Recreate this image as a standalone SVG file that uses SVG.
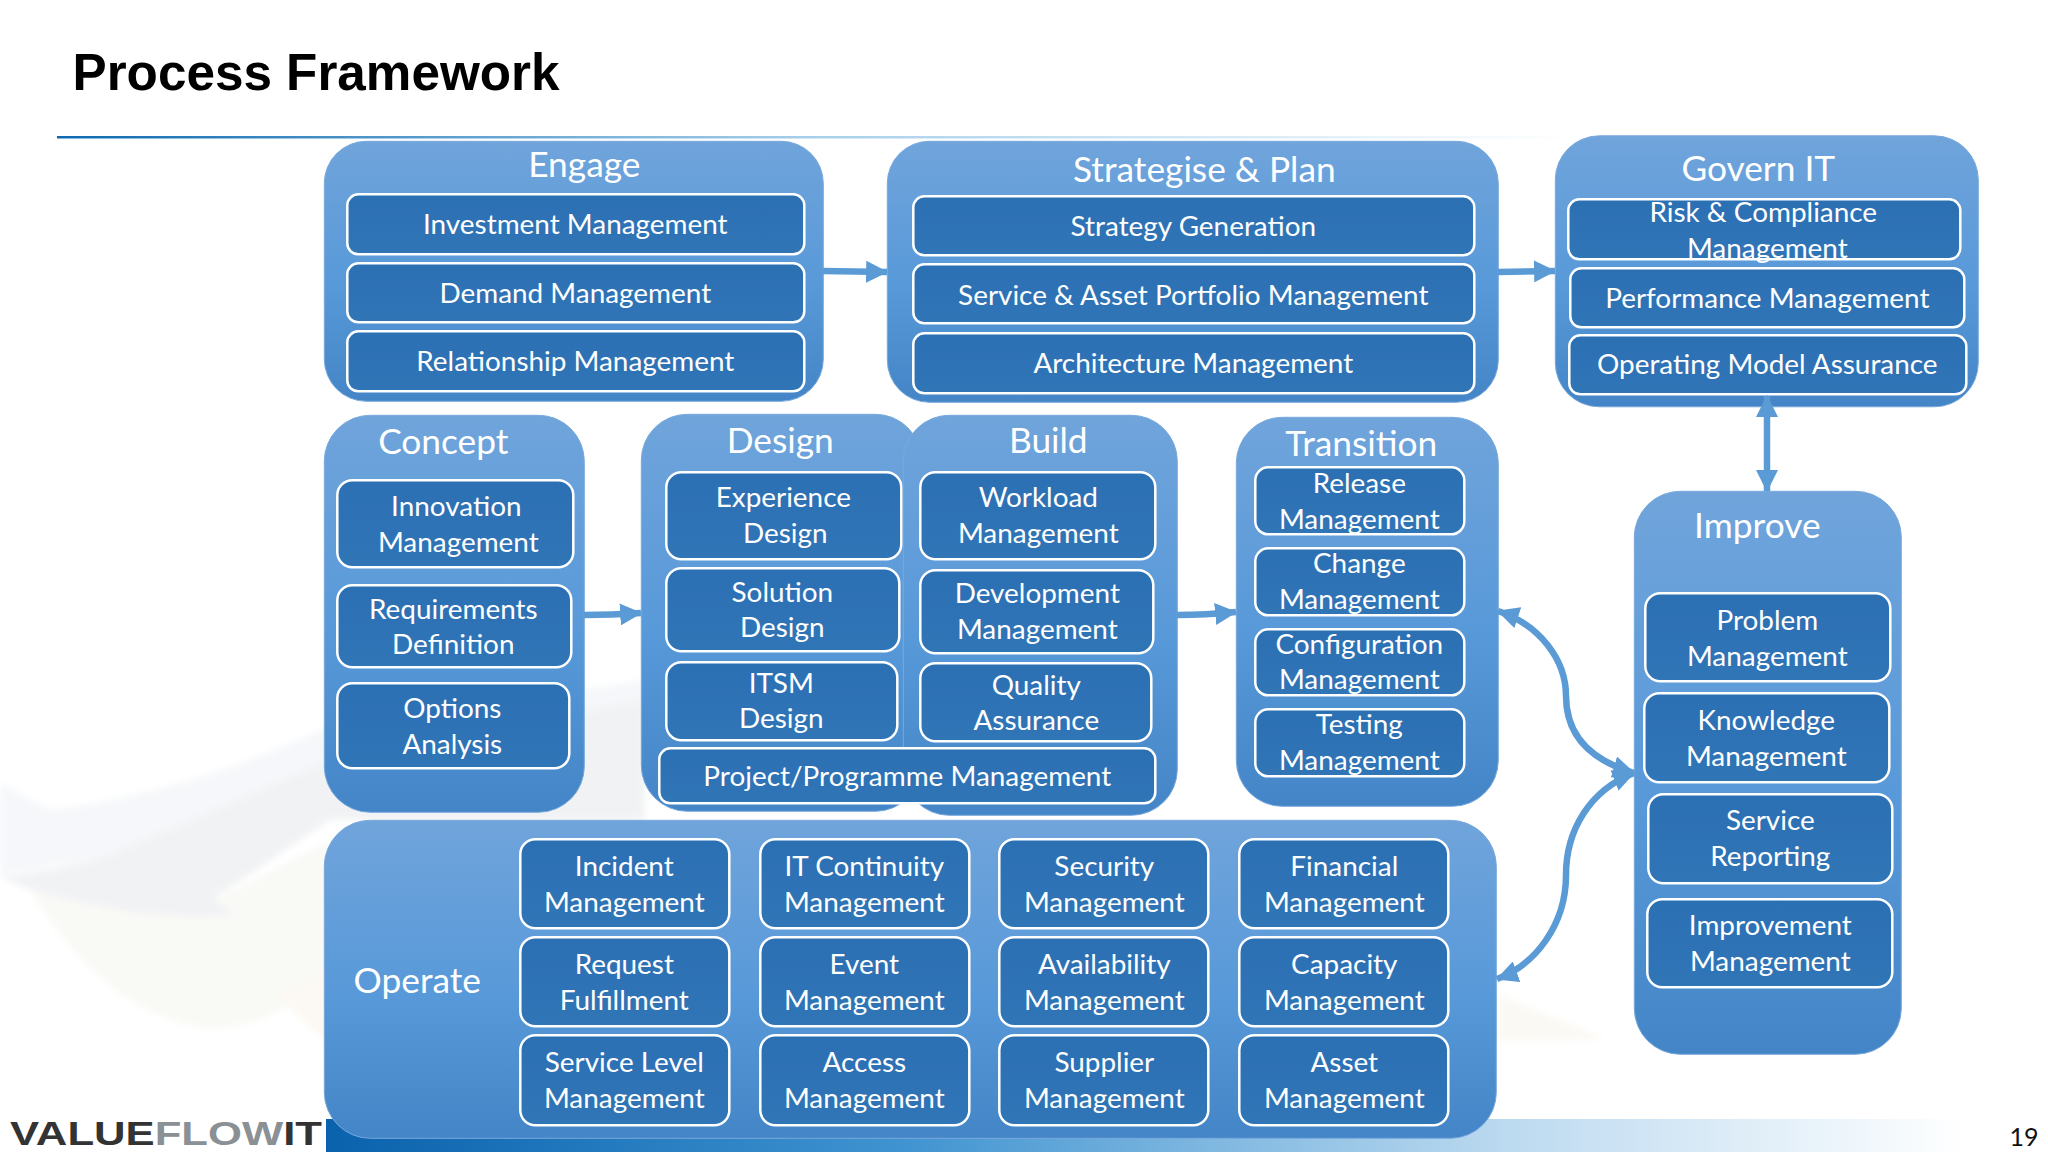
<svg xmlns="http://www.w3.org/2000/svg" width="2048" height="1152" viewBox="0 0 2048 1152">
<defs>
<linearGradient id="panelFill" x1="0" y1="0" x2="0" y2="1"><stop offset="0" stop-color="#70a4db"/><stop offset="0.55" stop-color="#5899d9"/><stop offset="1" stop-color="#4485c7"/></linearGradient>
<linearGradient id="boxFill" x1="0" y1="0" x2="0" y2="1"><stop offset="0" stop-color="#2c70b4"/><stop offset="1" stop-color="#3075b6"/></linearGradient>
<linearGradient id="band" x1="0" y1="0" x2="1" y2="0"><stop offset="0" stop-color="#0a62ad"/><stop offset="0.35" stop-color="#3f93d0"/><stop offset="0.72" stop-color="#bcdaf0"/><stop offset="1" stop-color="#ffffff"/></linearGradient>
<linearGradient id="rule" x1="0" y1="0" x2="1" y2="0"><stop offset="0" stop-color="#0d6ab1"/><stop offset="0.5" stop-color="#a8d0ea"/><stop offset="1" stop-color="#ffffff"/></linearGradient>
<filter id="soft" x="-5%" y="-5%" width="110%" height="110%"><feGaussianBlur stdDeviation="3"/></filter>
<marker id="head" markerUnits="userSpaceOnUse" markerWidth="22" markerHeight="22" refX="19" refY="10" orient="auto-start-reverse" viewBox="0 0 20 20"><path d="M0,0 L20,10 L0,20 Z" fill="#5b9bd5"/></marker>
</defs>
<style>
.panel{fill:url(#panelFill);stroke:#78a9dc;stroke-width:1}
.box{fill:url(#boxFill);stroke:#fff;stroke-width:2.5}
text{font-family:Lato,"Liberation Sans",sans-serif;fill:#fff;text-anchor:middle}
.h{font-size:35.3px;transform:translateY(.6px)}
.t{font-size:27.9px}
.conn{fill:none;stroke:#5b9bd5;stroke-width:6.5;marker-end:url(#head)}
.both{marker-start:url(#head)}
</style>
<rect width="2048" height="1152" fill="#fff"/>
<g id="background" filter="url(#soft)" opacity="0.62">
<path d="M0,783 L49,810 Q200,790 330,725 L645,680 L645,820 L330,820 L0,875 Z" fill="#f0f3f7"/>
<path d="M0,877 Q60,870 110,855 Q240,800 330,760 L645,700 L645,820 L330,820 L215,898 L235,915 Q150,925 30,890 Z" fill="#e9ebed"/>
<path d="M30,890 Q90,990 170,1020 Q250,1050 330,972 L330,840 L215,900 L235,915 Q150,925 30,890 Z" fill="#f6f7f1"/>
<path d="M275,995 L330,970 L330,1045 Z" fill="#fbf5ec"/>
<path d="M1497,994 L1606,1039 L1497,1041 Z" fill="#f8f6ee"/>
</g>
<rect x="326" y="1119" width="1640" height="33" fill="url(#band)"/>
<rect x="57" y="136" width="1520" height="2.5" fill="url(#rule)"/>
<text x="72.5" y="90" textLength="487" lengthAdjust="spacingAndGlyphs" style="font-family:'Liberation Sans',sans-serif;font-weight:700;font-size:52.5px;fill:#000;text-anchor:start">Process Framework</text>
<text id="logo" x="10" y="1145" textLength="312" lengthAdjust="spacingAndGlyphs" style="font-family:'Liberation Sans',sans-serif;font-weight:700;font-size:33.5px;text-anchor:start"><tspan fill="#333">VALUE</tspan><tspan fill="#8b9095">FLOW</tspan><tspan fill="#333">IT</tspan></text>
<text x="2024" y="1146" style="font-size:25px;fill:#111">19</text>
<g id="nodes" transform="translate(0.3,0.3)">
<g id="engage">
<rect class="panel" x="324" y="141" width="499" height="260" rx="42"/>
<text class="h" x="584" y="176">Engage</text>
<g id="investment-management"><rect class="box" x="347" y="194" width="457" height="60" rx="11"/><text class="t" x="575" y="234">Investment Management</text></g>
<g id="demand-management"><rect class="box" x="347" y="263" width="457" height="59" rx="11"/><text class="t" x="575" y="303">Demand Management</text></g>
<g id="relationship-management"><rect class="box" x="347" y="331" width="457" height="60" rx="11"/><text class="t" x="575" y="371">Relationship Management</text></g>
</g>
<g id="strategise-plan">
<rect class="panel" x="887" y="141" width="611" height="261" rx="42"/>
<text class="h" x="1204" y="181">Strategise &amp; Plan</text>
<g id="strategy-generation"><rect class="box" x="913" y="196" width="561" height="59" rx="11"/><text class="t" x="1193" y="236">Strategy Generation</text></g>
<g id="service-asset-portfolio-management"><rect class="box" x="913" y="264" width="561" height="59" rx="11"/><text class="t" x="1193" y="304.5">Service &amp; Asset Portfolio Management</text></g>
<g id="architecture-management"><rect class="box" x="913" y="333" width="561" height="60" rx="11"/><text class="t" x="1193" y="373">Architecture Management</text></g>
</g>
<g id="govern-it">
<rect class="panel" x="1555" y="135.5" width="423" height="271" rx="44"/>
<text class="h" x="1758" y="180">Govern IT</text>
<g id="risk-compliance-management"><rect class="box" x="1568" y="199" width="392" height="60" rx="11"/><text class="t" x="1763" y="222">Risk &amp; Compliance</text><text class="t" x="1767" y="258">Management</text></g>
<g id="performance-management"><rect class="box" x="1570" y="268" width="394" height="59" rx="11"/><text class="t" x="1767" y="308">Performance Management</text></g>
<g id="operating-model-assurance"><rect class="box" x="1569" y="335" width="397" height="59" rx="11"/><text class="t" x="1767" y="374">Operating Model Assurance</text></g>
</g>
<g id="concept">
<rect class="panel" x="324" y="415" width="260" height="397" rx="46"/>
<text class="h" x="443" y="453">Concept</text>
<g id="innovation-management"><rect class="box" x="337" y="480" width="236" height="87" rx="15"/><text class="t" x="456" y="516">Innovation</text><text class="t" x="458" y="552">Management</text></g>
<g id="requirements-definition"><rect class="box" x="337" y="585" width="234" height="82" rx="15"/><text class="t" x="453" y="619">Requirements</text><text class="t" x="453" y="654">Definition</text></g>
<g id="options-analysis"><rect class="box" x="337" y="683" width="232" height="85" rx="15"/><text class="t" x="452" y="718">Options</text><text class="t" x="452" y="754">Analysis</text></g>
</g>
<g id="design">
<rect class="panel" x="641" y="414" width="280" height="397" rx="46"/>
<text class="h" x="780" y="452">Design</text>
<g id="experience-design"><rect class="box" x="666" y="472" width="235" height="87" rx="15"/><text class="t" x="783" y="507">Experience</text><text class="t" x="785" y="543">Design</text></g>
<g id="solution-design"><rect class="box" x="666" y="568" width="233" height="83" rx="15"/><text class="t" x="782" y="602">Solution</text><text class="t" x="782" y="637">Design</text></g>
<g id="itsm-design"><rect class="box" x="666" y="662" width="231" height="78" rx="15"/><text class="t" x="781" y="693">ITSM</text><text class="t" x="781" y="728">Design</text></g>
</g>
<g id="build">
<rect class="panel" x="903" y="415" width="274" height="400" rx="46"/>
<text class="h" x="1048" y="452">Build</text>
<g id="workload-management"><rect class="box" x="920" y="472" width="235" height="87" rx="15"/><text class="t" x="1038" y="507">Workload</text><text class="t" x="1038" y="543">Management</text></g>
<g id="development-management"><rect class="box" x="920" y="570" width="233" height="83" rx="15"/><text class="t" x="1037" y="603">Development</text><text class="t" x="1037" y="639">Management</text></g>
<g id="quality-assurance"><rect class="box" x="920" y="663" width="231" height="78" rx="15"/><text class="t" x="1036" y="695">Quality</text><text class="t" x="1036" y="730">Assurance</text></g>
</g>
<g id="project-programme-management"><rect class="box" x="659" y="748" width="496" height="55" rx="11"/><text class="t" x="907" y="786">Project/Programme Management</text></g>
<g id="transition">
<rect class="panel" x="1236" y="417" width="262" height="389" rx="46"/>
<text class="h" x="1361" y="455">Transition</text>
<g id="release-management"><rect class="box" x="1255" y="467" width="209" height="67" rx="13"/><text class="t" x="1359" y="493">Release</text><text class="t" x="1359" y="529">Management</text></g>
<g id="change-management"><rect class="box" x="1255" y="548" width="209" height="67" rx="13"/><text class="t" x="1359" y="573">Change</text><text class="t" x="1359" y="609">Management</text></g>
<g id="configuration-management"><rect class="box" x="1255" y="629" width="209" height="66" rx="13"/><text class="t" x="1359" y="654">Configuration</text><text class="t" x="1359" y="689">Management</text></g>
<g id="testing-management"><rect class="box" x="1255" y="709" width="209" height="67" rx="13"/><text class="t" x="1359" y="734">Testing</text><text class="t" x="1359" y="770">Management</text></g>
</g>
<g id="improve">
<rect class="panel" x="1634" y="491" width="267" height="563" rx="46"/>
<text class="h" x="1757" y="537">Improve</text>
<g id="problem-management"><rect class="box" x="1645" y="593" width="245" height="88" rx="15"/><text class="t" x="1767" y="630">Problem</text><text class="t" x="1767" y="666">Management</text></g>
<g id="knowledge-management"><rect class="box" x="1644" y="693" width="245" height="89" rx="15"/><text class="t" x="1766" y="730">Knowledge</text><text class="t" x="1766" y="766">Management</text></g>
<g id="service-reporting"><rect class="box" x="1648" y="794" width="244" height="89" rx="15"/><text class="t" x="1770" y="830">Service</text><text class="t" x="1770" y="866">Reporting</text></g>
<g id="improvement-management"><rect class="box" x="1647" y="899" width="245" height="88" rx="15"/><text class="t" x="1770" y="935">Improvement</text><text class="t" x="1770" y="971">Management</text></g>
</g>
<g id="operate">
<rect class="panel" x="324" y="820" width="1172" height="318" rx="46"/>
<text class="h" x="417" y="992">Operate</text>
<g id="incident-management"><rect class="box" x="520" y="839" width="209" height="89" rx="15"/><text class="t" x="624" y="876">Incident</text><text class="t" x="624" y="912">Management</text></g>
<g id="it-continuity-management"><rect class="box" x="760" y="839" width="209" height="89" rx="15"/><text class="t" x="864" y="876">IT Continuity</text><text class="t" x="864" y="912">Management</text></g>
<g id="security-management"><rect class="box" x="999" y="839" width="209" height="89" rx="15"/><text class="t" x="1104" y="876">Security</text><text class="t" x="1104" y="912">Management</text></g>
<g id="financial-management"><rect class="box" x="1239" y="839" width="209" height="89" rx="15"/><text class="t" x="1344" y="876">Financial</text><text class="t" x="1344" y="912">Management</text></g>
<g id="request-fulfillment"><rect class="box" x="520" y="937" width="209" height="89" rx="15"/><text class="t" x="624" y="974">Request</text><text class="t" x="624" y="1010">Fulfillment</text></g>
<g id="event-management"><rect class="box" x="760" y="937" width="209" height="89" rx="15"/><text class="t" x="864" y="974">Event</text><text class="t" x="864" y="1010">Management</text></g>
<g id="availability-management"><rect class="box" x="999" y="937" width="209" height="89" rx="15"/><text class="t" x="1104" y="974">Availability</text><text class="t" x="1104" y="1010">Management</text></g>
<g id="capacity-management"><rect class="box" x="1239" y="937" width="209" height="89" rx="15"/><text class="t" x="1344" y="974">Capacity</text><text class="t" x="1344" y="1010">Management</text></g>
<g id="service-level-management"><rect class="box" x="520" y="1035" width="209" height="90" rx="15"/><text class="t" x="624" y="1072">Service Level</text><text class="t" x="624" y="1108">Management</text></g>
<g id="access-management"><rect class="box" x="760" y="1035" width="209" height="90" rx="15"/><text class="t" x="864" y="1072">Access</text><text class="t" x="864" y="1108">Management</text></g>
<g id="supplier-management"><rect class="box" x="999" y="1035" width="209" height="90" rx="15"/><text class="t" x="1104" y="1072">Supplier</text><text class="t" x="1104" y="1108">Management</text></g>
<g id="asset-management"><rect class="box" x="1239" y="1035" width="209" height="90" rx="15"/><text class="t" x="1344" y="1072">Asset</text><text class="t" x="1344" y="1108">Management</text></g>
</g>
</g>
<g id="connectors">
<path class="conn" d="M823,271 L887,272"/>
<path class="conn" d="M1498,272 L1555,271"/>
<path class="conn" d="M584,615 Q612,615 641,613"/>
<path class="conn" d="M1177,615 Q1205,615 1236,612"/>
<path class="conn both" d="M1767,396 L1767,491"/>
<path class="conn both" d="M1498,611 C1540,625 1566,660 1566,696 C1566,735 1590,760 1634,773"/>
<path class="conn both" d="M1634,773 C1590,790 1566,830 1566,875 C1566,925 1535,965 1497,979"/>
</g>
</svg>
